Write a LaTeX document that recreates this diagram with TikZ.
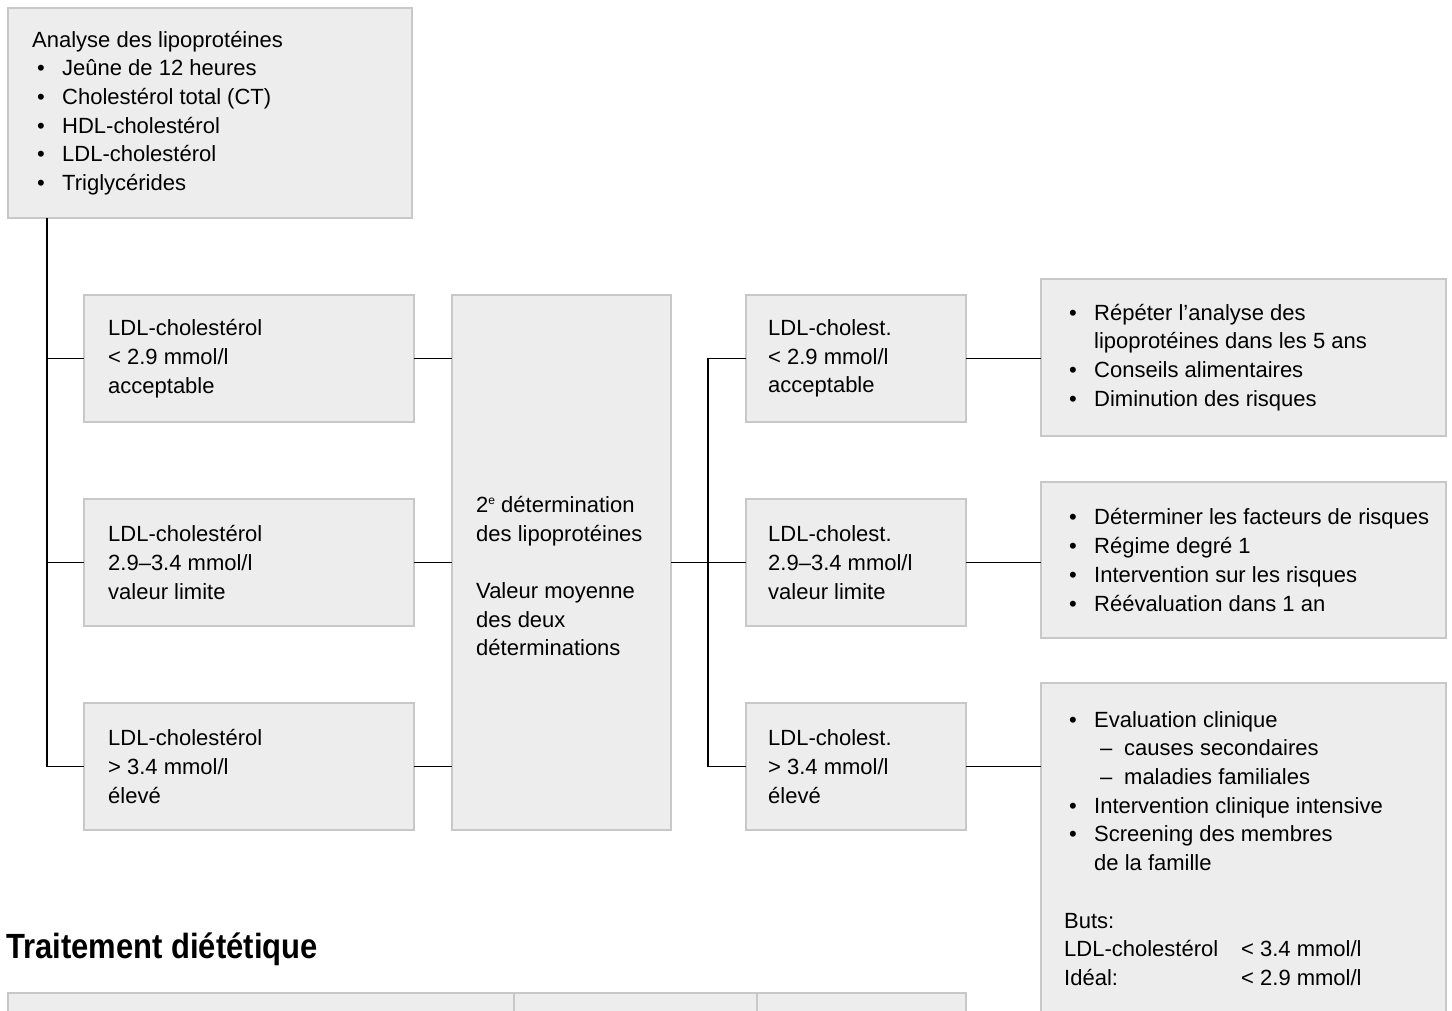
\documentclass[tikz,border=0pt]{standalone}
\usepackage{fontspec}
\setmainfont{Liberation Sans}
\usetikzlibrary{positioning}

\definecolor{boxfill}{HTML}{EDEDED}
\definecolor{boxline}{HTML}{C8C8C8}

% list marks
\newcommand{\blt}{\hspace*{5pt}\makebox[25pt][l]{\textbullet}}
\newcommand{\dsh}{\hspace*{36pt}\makebox[24pt][l]{–}}
\newcommand{\blcont}{\hspace*{30pt}}

\begin{document}
\begin{tikzpicture}[x=1pt, y=-1pt,
    box/.style={draw=boxline, fill=boxfill, line width=1.5pt, anchor=north west, inner sep=0pt, outer sep=0pt},
    txt/.style={inner sep=0pt, align=left, font=\fontsize{22}{28.7}\selectfont},
    link/.style={line width=1.3pt}]
    \useasboundingbox (0,0) rectangle (1452,1010);

    % Analyse
    \node[box, minimum width=404, minimum height=210] (top) at (8,8) {};
    \node[txt, right=24pt of top.west] (topt) {Analyse des lipoprotéines\\
        \blt Jeûne de 12 heures\\
        \blt Cholestérol total (CT)\\
        \blt HDL-cholestérol\\
        \blt LDL-cholestérol\\
        \blt Triglycérides};

    % First determination
    \node[box, minimum width=330, minimum height=127] (l1) at (84,295) {};
    \node[box, minimum width=330, minimum height=127] (l2) at (84,499) {};
    \node[box, minimum width=330, minimum height=127] (l3) at (84,703) {};
    \node[txt, right=24pt of l1.west] (l1t) {LDL-cholestérol\\ < 2.9 mmol/l\\ acceptable};
    \node[txt, right=24pt of l2.west] (l2t) {LDL-cholestérol\\ 2.9–3.4 mmol/l\\ valeur limite};
    \node[txt, right=24pt of l3.west] (l3t) {LDL-cholestérol\\ > 3.4 mmol/l\\ élevé};

    % Second determination
    \node[box, minimum width=219, minimum height=535] (mid) at (452,295) {};
    \node[txt, anchor=north west] (midt) at ([xshift=24pt, yshift=-201pt]mid.north west)
        {2\raisebox{8pt}{\fontsize{12}{12}\selectfont e} détermination\\
        des lipoprotéines\\[28.7pt]
        Valeur moyenne\\
        des deux\\
        déterminations};

    % Mean value
    \node[box, minimum width=220, minimum height=127] (r1) at (746,295) {};
    \node[box, minimum width=220, minimum height=127] (r2) at (746,499) {};
    \node[box, minimum width=220, minimum height=127] (r3) at (746,703) {};
    \node[txt, right=22pt of r1.west] (r1t) {LDL-cholest.\\ < 2.9 mmol/l\\ acceptable};
    \node[txt, right=22pt of r2.west] (r2t) {LDL-cholest.\\ 2.9–3.4 mmol/l\\ valeur limite};
    \node[txt, right=22pt of r3.west] (r3t) {LDL-cholest.\\ > 3.4 mmol/l\\ élevé};

    % Measures
    \node[box, minimum width=405, minimum height=157] (a1) at (1041,279) {};
    \node[box, minimum width=405, minimum height=156] (a2) at (1041,482) {};
    \node[box, minimum width=405, minimum height=340] (a3) at (1041,683) {};
    \node[txt, right=23pt of a1.west] (a1t) {\blt Répéter l’analyse des\\
        \blcont lipoprotéines dans les 5 ans\\
        \blt Conseils alimentaires\\
        \blt Diminution des risques};
    \node[txt, right=23pt of a2.west] (a2t) {\blt Déterminer les facteurs de risques\\
        \blt Régime degré 1\\
        \blt Intervention sur les risques\\
        \blt Réévaluation dans 1 an};
    \node[txt, anchor=north west] (a3t) at ([xshift=23pt, yshift=-28pt]a3.north west)
        {\blt Evaluation clinique\\
        \dsh causes secondaires\\
        \dsh maladies familiales\\
        \blt Intervention clinique intensive\\
        \blt Screening des membres\\
        \blcont de la famille\\[28.7pt]
        Buts:\\
        \makebox[177pt][l]{LDL-cholestérol}< 3.4 mmol/l\\
        \makebox[177pt][l]{Idéal:}< 2.9 mmol/l};

    % Connectors
    \coordinate (trunk) at ([xshift=39pt]top.south west);
    \coordinate (fork) at ([xshift=37pt]mid.east);
    \foreach \n in {1,2,3} {
        \draw[link] (trunk) |- (l\n.west);
        \draw[link] (l\n.east) -- (l\n.east -| mid.west);
        \draw[link] (fork) |- (r\n.west);
        \draw[link] (r\n.east) -- (r\n.east -| a\n.west);
    }
    \draw[link] (mid.east) -- (fork);

    % Diet table
    \node[anchor=base west, inner sep=0pt, font=\bfseries\fontsize{35}{40}\selectfont] (title) at (6,958)
        {\scalebox{0.885}[1]{Traitement diététique}};
    \node[box, minimum width=506, minimum height=40] (c1) at (8,993) {};
    \node[box, minimum width=243, minimum height=40] (c2) at (514,993) {};
    \node[box, minimum width=209, minimum height=40] (c3) at (757,993) {};
\end{tikzpicture}
\end{document}
